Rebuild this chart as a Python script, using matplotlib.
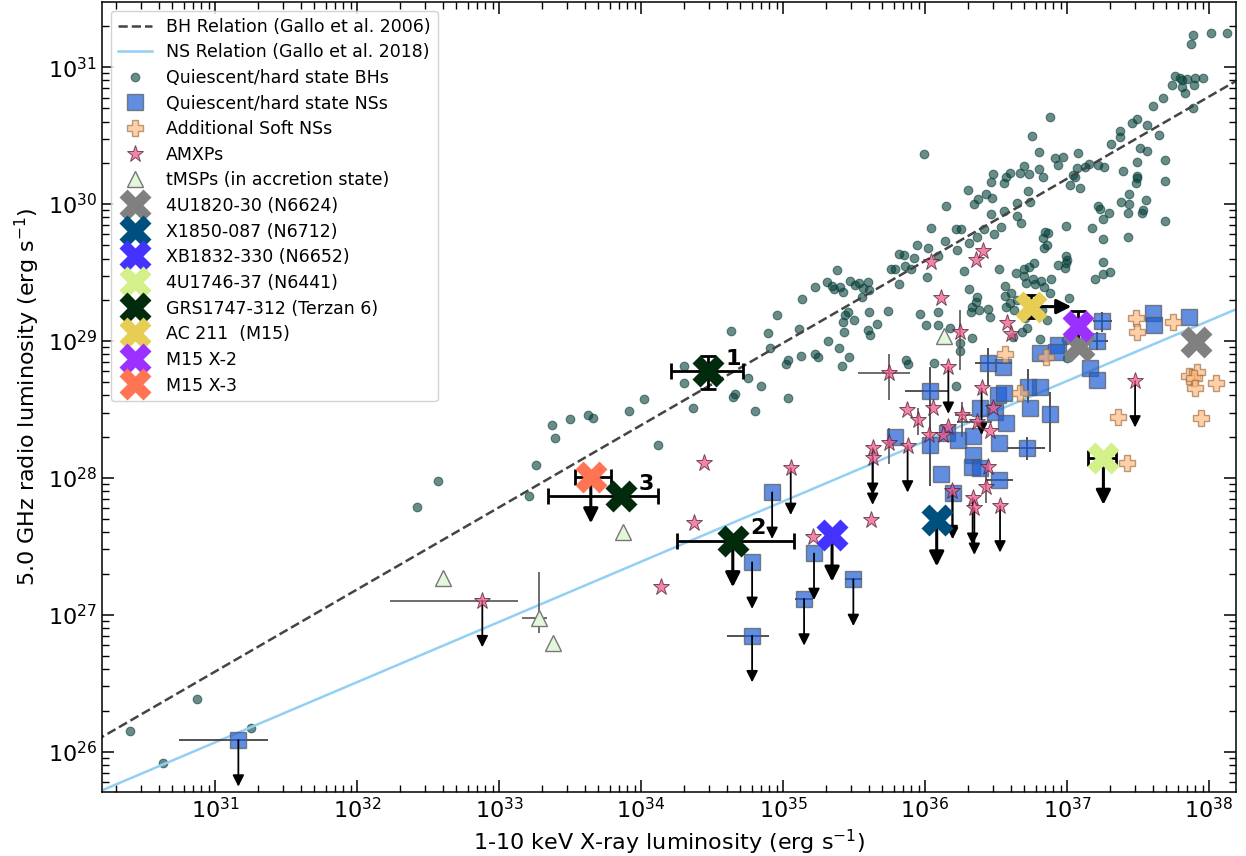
import numpy as np
import matplotlib
matplotlib.use('Agg')
import matplotlib.pyplot as plt
from matplotlib.ticker import LogLocator, NullFormatter

# all values are log10 luminosities in erg/s: Lx (1-10 keV) and Lr (5 GHz)

# quiescent / hard state black holes
bh_lx = [37.885, 37.875, 38.011, 38.124, 37.760, 37.795, 37.807, 37.847,
         37.901, 37.955, 37.894, 37.807, 37.833, 37.889, 37.739, 37.678,
         37.608, 37.495, 37.460, 37.565, 37.645, 37.373, 37.373, 37.307,
         36.882, 36.751, 35.995, 36.800, 36.915, 36.969, 37.077, 36.939,
         36.697, 36.669, 36.732, 36.803, 36.831, 36.601, 36.570, 36.556,
         36.481, 36.467, 36.305, 36.429, 36.373, 36.472, 36.343, 36.145,
         36.723, 36.648, 36.737, 36.554, 36.462, 36.650, 36.676, 36.533,
         36.488, 36.413, 36.368, 36.312, 36.251, 36.220, 36.040, 36.143,
         36.225, 35.946, 36.023, 36.094, 35.920, 35.819, 35.852, 35.859,
         35.899, 35.760, 35.789, 35.814, 36.016, 36.277, 36.310, 36.368,
         36.523, 36.565, 36.638, 36.697, 36.697, 36.734, 36.767, 36.709,
         36.763, 36.774, 36.819, 36.838, 36.885, 36.880, 36.563, 36.608,
         36.993, 37.000, 36.995, 36.936, 36.988, 37.014, 36.845, 36.864,
         36.828, 36.840, 36.857, 36.993, 37.178, 37.216, 37.232, 37.293,
         37.251, 37.251, 37.253, 37.194, 37.251, 37.302, 37.429, 37.431,
         37.439, 37.434, 37.377, 37.554, 37.532, 37.528, 37.687, 37.687,
         37.687, 37.490, 37.490, 37.488, 37.493, 37.396, 37.260, 37.218,
         37.157, 37.129, 37.068, 37.044, 37.021, 37.091, 37.054, 37.514,
         37.561,
         35.377, 35.307, 35.342, 35.361, 35.401, 35.424, 35.471, 35.506,
         35.537, 35.565, 35.600, 35.607, 35.553, 35.225, 35.136, 34.955,
         35.115, 34.892, 34.633, 35.436, 35.460, 35.424, 35.497, 35.607,
         35.664, 35.741, 35.431, 35.596, 35.612, 35.316, 34.906, 35.124,
         35.227, 35.248, 35.037, 35.021, 35.396, 35.462, 35.417, 34.751,
         34.847, 34.302, 34.302, 34.659, 34.650, 34.021, 35.032,
         33.373, 33.392, 33.500, 33.629, 33.665, 33.916, 34.122, 34.369,
         34.803,
         33.262, 33.213, 32.568, 32.420, 30.873, 30.399, 30.636, 31.256,
         35.863, 35.882, 36.065, 36.215, 35.967, 36.089, 36.004, 36.093,
         36.176, 36.328, 36.246, 36.246, 36.356, 36.328, 36.321, 36.380,
         36.441, 36.457, 36.598, 36.570, 36.626, 36.645, 36.704, 36.715,
         36.680, 36.621, 36.821, 36.856, 36.809, 36.997, 36.992]
bh_lr = [31.238, 31.170, 31.252, 31.252, 30.936, 30.919, 30.907, 30.911,
         30.919, 30.921, 30.868, 30.853, 30.812, 30.702, 30.868, 30.775,
         30.719, 30.619, 30.590, 30.580, 30.507, 30.536, 30.493, 30.439,
         30.636, 30.498, 30.364, 30.383, 30.337, 30.347, 30.371, 30.288,
         30.281, 30.230, 30.220, 30.256, 30.196, 30.225, 30.196, 30.157,
         30.218, 30.164, 30.103, 30.071, 30.037, 30.045, 30.003, 29.986,
         30.098, 30.008, 30.013, 29.952, 29.930, 29.911, 29.864, 29.830,
         29.784, 29.816, 29.757, 29.718, 29.821, 29.816, 29.825, 29.733,
         29.665, 29.704, 29.679, 29.621, 29.604, 29.635, 29.626, 29.550,
         29.528, 29.528, 29.524, 29.419, 29.470, 29.509, 29.382, 29.321,
         29.528, 29.404, 29.494, 29.524, 29.475, 29.538, 29.567, 29.426,
         29.455, 29.416, 29.441, 29.392, 29.450, 29.353, 29.329, 29.353,
         29.621, 29.592, 29.567, 29.553, 29.531, 29.312, 29.794, 29.791,
         29.752, 29.679, 29.704, 29.840, 29.823, 29.989, 29.962, 29.933,
         29.889, 29.743, 29.575, 29.455, 29.489, 29.504, 29.757, 29.933,
         30.001, 30.074, 30.018, 30.028, 29.957, 29.933, 29.877, 30.169,
         30.322, 30.310, 30.205, 30.157, 30.188, 30.242, 30.274, 30.288,
         30.295, 30.274, 30.261, 30.215, 30.140, 30.115, 30.200, 30.410,
         30.390,
         29.516, 29.428, 29.404, 29.377, 29.396, 29.360, 29.438, 29.409,
         29.426, 29.384, 29.428, 29.372, 29.323, 29.394, 29.304, 29.187,
         29.090, 29.060, 29.075, 29.189, 29.209, 29.136, 29.153, 29.209,
         29.121, 29.216, 29.063, 29.080, 29.046, 29.002, 28.946, 28.887,
         28.904, 28.885, 28.863, 28.834, 28.946, 28.885, 28.819, 28.732,
         28.673, 28.814, 28.695, 28.612, 28.593, 28.576, 28.581,
         28.386, 28.293, 28.427, 28.459, 28.437, 28.491, 28.240, 28.508,
         28.491,
         28.097, 27.865, 27.980, 27.790, 26.382, 26.151, 25.920, 26.175,
         28.862, 28.832, 28.837, 28.672, 29.198, 29.215, 29.117, 29.117,
         29.093, 29.020, 28.983, 28.930, 29.288, 29.251, 29.210, 29.227,
         29.236, 29.173, 29.275, 29.251, 29.227, 29.300, 29.166, 29.093,
         29.068, 29.032, 29.227, 29.154, 29.015, 28.874, 29.008]

# quiescent / hard state neutron stars
ns_lx = [31.164, 34.923, 34.782, 35.218, 35.148, 34.782, 35.495,
         36.035, 35.788, 36.035, 36.110, 36.152, 36.234, 36.194, 36.335, 36.328, 36.387,
         36.387, 36.340, 36.445, 36.516, 36.492, 36.570, 36.523, 36.523, 36.546, 36.556,
         36.739, 36.809, 36.727, 36.880, 36.720, 36.809, 36.938, 36.922, 37.161, 37.208,
         37.244, 37.209, 37.608, 37.615, 37.859]
ns_lr = [26.085, 27.894, 27.383, 27.448, 27.115, 26.847, 27.258,
         28.637, 28.301, 28.241, 28.026, 28.326, 28.277, 27.892, 28.168, 28.082, 28.070,
         28.508, 28.306, 28.837, 28.606, 28.484, 28.399, 28.258, 27.985, 28.813, 28.618,
         28.508, 28.667, 28.662, 28.467, 28.216, 28.915, 28.971, 28.922, 28.801, 28.715,
         29.149, 29.003, 29.202, 29.117, 29.178]
ns_uplim = [0, 1, 2, 3, 4, 5, 6, 13]
ns_xerr = {0: (30.749, 31.375), 4: (35.084, 35.213), 5: (34.608, 34.904),
           6: (35.437, 35.554), 7: (35.859, 36.164), 19: (36.352, 36.610),
           24: (36.434, 36.622), 31: (36.575, 36.844), 37: (37.186, 37.315),
           38: (37.150, 37.291)}
ns_yerr = {7: (27.941, 28.808), 19: (28.679, 28.947), 29: (28.545, 28.793),
           30: (28.192, 28.630), 31: (28.131, 28.301), 37: (29.069, 29.215),
           38: (28.935, 29.069)}

# additional soft-state neutron stars
soft_lx = [37.486, 37.495, 37.749, 37.861, 37.913, 37.894, 37.901, 38.049,
           37.941, 37.362, 37.425, 36.563, 36.668, 36.851]
soft_lr = [29.166, 29.069, 29.137, 28.745, 28.776, 28.728, 28.655, 28.691,
           28.435, 28.448, 28.112, 28.905, 28.623, 28.881]

# accreting millisecond X-ray pulsars
amxp_lx = [36.359, 36.406, 36.040, 36.112, 36.246, 36.574, 36.603, 35.748, 36.164, 36.398,
           35.870, 36.053, 35.953, 36.481, 36.258, 36.363, 36.164, 36.129, 36.030, 36.457,
           35.748, 35.631, 35.631, 35.877, 36.445, 36.429, 36.192, 36.335, 36.347, 36.528,
           35.617, 37.479, 34.446, 35.054, 34.371, 35.213, 34.141, 32.882]
amxp_lr = [29.592, 29.660, 29.580, 29.312, 29.068, 29.129, 29.051, 28.769, 28.808, 28.654,
           28.496, 28.508, 28.423, 28.508, 28.460, 28.411, 28.375, 28.314, 28.314, 28.345,
           28.258, 28.216, 28.143, 28.233, 28.077, 27.936, 27.907, 27.851, 27.778, 27.795,
           27.693, 28.708, 28.106, 28.069, 27.668, 27.565, 27.200, 27.103]
amxp_uplim = [8, 9, 21, 22, 23, 26, 27, 28, 29, 31, 33, 37]
amxp_xerr = {7: (35.530, 35.894), 14: (36.211, 36.328), 15: (36.222, 36.469),
             37: (32.232, 33.131)}
amxp_yerr = {4: (28.788, 29.227), 7: (28.569, 28.903), 12: (28.314, 28.508),
             14: (28.301, 28.557), 20: (28.102, 28.362), 25: (27.814, 28.094)}

# transitional MSPs in the accretion state
tmsp_lx = [32.603, 33.281, 33.382, 33.870, 36.133]
tmsp_lr = [27.266, 26.974, 26.796, 27.607, 29.037]
tmsp_xerr = {1: (33.164, 33.335)}
tmsp_yerr = {1: (26.865, 27.315)}

# globular cluster sources
src_names = ['4U1820-30 (N6624)', 'X1850-087 (N6712)', 'XB1832-330 (N6652)',
             '4U1746-37 (N6441)', 'GRS1747-312 (Terzan 6)', 'AC 211  (M15)',
             'M15 X-2', 'M15 X-3']
src_colors = ['#808080', '#00507f', '#4433ff', '#d4f08a', '#022a0c', '#e8cd55',
              '#9b30ff', '#ff7553']
src_lx = [[37.087, 37.908], [36.082], [35.345], [37.256],
          [34.470, 34.646, 33.859], [36.746], [37.076], [33.646]]
src_lr = [[28.964, 28.995], [27.693], [27.582], [28.143],
          [28.780, 27.541, 27.867], [29.251], [29.113], [28.008]]
src_uplim = [[0, 0], [1], [1], [1], [0, 1, 0], [0], [0], [1]]
src_xerr = [[None, None], [None], [None], [(37.150, 37.345)],
            [(34.209, 34.716), (34.251, 35.080), (33.348, 34.122)], [None], [None],
            [(33.535, 33.789)]]
src_yerr = [[None, None], [None], [None], [None],
            [(28.646, 28.890), None, None], [(29.166, 29.336)], [(29.000, 29.222)],
            [None]]
ac211_lx_limit = 37.03   # lower limit on Lx for AC 211

# radio / X-ray correlations: log Lr = slope * log Lx + norm
bh_slope, bh_norm = 0.6, 7.985
ns_slope, ns_norm = 0.44, 12.428

UL_DEX = 0.34   # length of upper-limit arrows in dex

fig, ax = plt.subplots(figsize=(12.46, 8.56), dpi=100)
fig.subplots_adjust(left=0.0819, right=0.992, bottom=0.0748, top=0.9977)
ax.set_xscale('log')
ax.set_yscale('log')
ax.set_xlim(10**30.204, 10**38.19)
ax.set_ylim(10**25.706, 10**31.476)


def down_arrow(x, y, big=False):
    ax.annotate('', xy=(x, y / 10**UL_DEX), xytext=(x, y),
                arrowprops=dict(arrowstyle='-|>', color='k',
                                lw=2.2 if big else 1.3,
                                mutation_scale=22 if big else 17,
                                shrinkA=0, shrinkB=0),
                zorder=5 if big else 3.5)


def err_bars(lx, lr, xerr, yerr, color='#555555', lw=1.2, cap=0, z=2.8):
    for i, (lo, hi) in xerr.items():
        x, y = 10**lx[i], 10**lr[i]
        ax.errorbar(x, y, xerr=[[x - 10**lo], [10**hi - x]], fmt='none',
                    ecolor=color, elinewidth=lw, capsize=cap, capthick=lw, zorder=z)
    for i, (lo, hi) in yerr.items():
        x, y = 10**lx[i], 10**lr[i]
        ax.errorbar(x, y, yerr=[[y - 10**lo], [10**hi - y]], fmt='none',
                    ecolor=color, elinewidth=lw, capsize=cap, capthick=lw, zorder=z)


handles = []

# correlation lines
lx_line = np.linspace(30.0, 38.5, 50)
h, = ax.plot(10**lx_line, 10**(bh_slope * lx_line + bh_norm), ls='--', color='#444444',
             lw=1.8, zorder=2.5, label='BH Relation (Gallo et al. 2006)')
handles.append(h)
h, = ax.plot(10**lx_line, 10**(ns_slope * lx_line + ns_norm), ls='-', color='#93cff5',
             lw=1.8, zorder=2.5, label='NS Relation (Gallo et al. 2018)')
handles.append(h)

h, = ax.plot(10**np.array(bh_lx), 10**np.array(bh_lr), 'o', ms=6.2, mfc='#07403a',
             mec='#07403a', mew=0.8, alpha=0.6, zorder=2,
             label='Quiescent/hard state BHs')
handles.append(h)

h, = ax.plot(10**np.array(ns_lx), 10**np.array(ns_lr), 's', ms=11, mfc='#1f5fd6',
             mec='#555555', mew=1.0, alpha=0.7, zorder=3,
             label='Quiescent/hard state NSs')
handles.append(h)
err_bars(ns_lx, ns_lr, ns_xerr, ns_yerr, color='#333333')
for i in ns_uplim:
    down_arrow(10**ns_lx[i], 10**ns_lr[i])

h, = ax.plot(10**np.array(soft_lx), 10**np.array(soft_lr), 'P', ms=12, mfc='#ffb878',
             mec='#9a6a40', mew=1.0, alpha=0.65, zorder=3, label='Additional Soft NSs')
handles.append(h)

h, = ax.plot(10**np.array(amxp_lx), 10**np.array(amxp_lr), '*', ms=12.5, mfc='#f2588a',
             mec='#4a2030', mew=0.7, alpha=0.75, zorder=4, label='AMXPs')
handles.append(h)
err_bars(amxp_lx, amxp_lr, amxp_xerr, amxp_yerr)
for i in amxp_uplim:
    down_arrow(10**amxp_lx[i], 10**amxp_lr[i])

h, = ax.plot(10**np.array(tmsp_lx), 10**np.array(tmsp_lr), '^', ms=11, mfc='#e3f7da',
             mec='#777777', mew=1.0, zorder=4, label='tMSPs (in accretion state)')
handles.append(h)
err_bars(tmsp_lx, tmsp_lr, tmsp_xerr, tmsp_yerr)

# globular cluster sources, with black error bars and limits
for name, col, lxs, lrs, uls, xes, yes in zip(src_names, src_colors, src_lx, src_lr,
                                             src_uplim, src_xerr, src_yerr):
    xs, ys = 10**np.array(lxs), 10**np.array(lrs)
    for x, y, ul, xe, ye in zip(xs, ys, uls, xes, yes):
        if xe is not None:
            ax.errorbar(x, y, xerr=[[x - 10**xe[0]], [10**xe[1] - x]], fmt='none',
                        ecolor='k', elinewidth=2, capsize=6, capthick=2, zorder=5)
        if ye is not None:
            ax.errorbar(x, y, yerr=[[y - 10**ye[0]], [10**ye[1] - y]], fmt='none',
                        ecolor='k', elinewidth=2, capsize=6, capthick=2, zorder=5)
        if ul:
            down_arrow(x, y, big=True)
    h, = ax.plot(xs, ys, 'X', ms=23, mfc=col, mec='none', zorder=6, label=name)
    handles.append(h)

# AC 211: X-ray lower limit
ac_x, ac_y = 10**src_lx[5][0], 10**src_lr[5][0]
ax.annotate('', xy=(10**ac211_lx_limit, ac_y), xytext=(ac_x, ac_y),
            arrowprops=dict(arrowstyle='-|>', color='k', lw=2.2, mutation_scale=22,
                            shrinkA=0, shrinkB=0), zorder=5)

# number the Terzan 6 epochs
for k, (x, y) in enumerate(zip(src_lx[4], src_lr[4])):
    ax.annotate(str(k + 1), xy=(10**x, 10**y), xytext=(18, 9), textcoords='offset points',
                ha='center', va='center', fontsize=16, fontweight='bold', zorder=7)

ax.set_xlabel('1-10 keV X-ray luminosity (erg s$^{-1}$)', fontsize=16)
ax.set_ylabel('5.0 GHz radio luminosity (erg s$^{-1}$)', fontsize=16)

for axis in (ax.xaxis, ax.yaxis):
    axis.set_major_locator(LogLocator(base=10, numticks=20))
    axis.set_minor_locator(LogLocator(base=10, subs=np.arange(2, 10), numticks=20))
    axis.set_minor_formatter(NullFormatter())
ax.tick_params(which='both', direction='in', top=True, right=True, labelsize=16)
ax.tick_params(which='major', length=8.5, width=1.1)
ax.tick_params(which='minor', length=5, width=1.0)
for s in ax.spines.values():
    s.set_linewidth(1.1)

ax.legend(handles=handles, loc='upper left', fontsize=12.5, numpoints=1,
          labelspacing=0.44, framealpha=0.85, edgecolor='0.8')

fig.savefig('out.png', dpi=100)
